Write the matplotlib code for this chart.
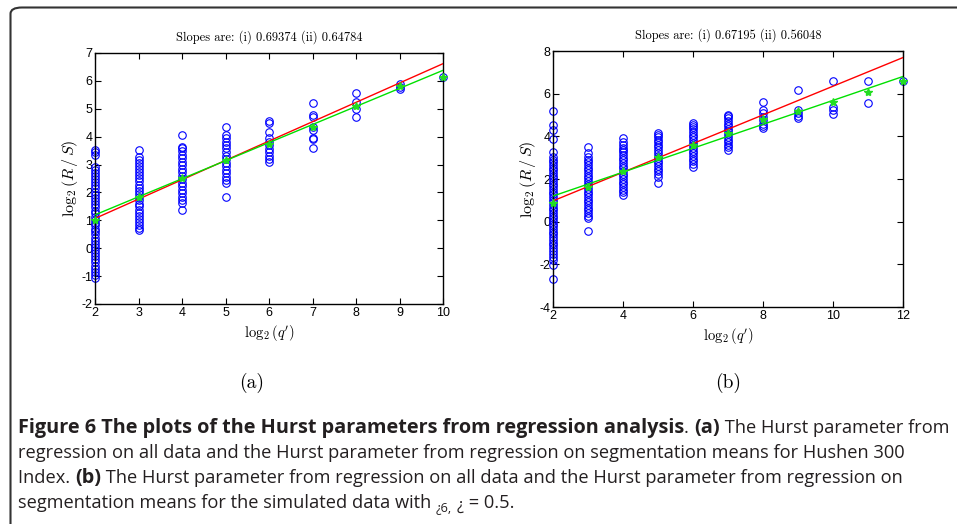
import matplotlib
matplotlib.use("Agg")
import matplotlib.pyplot as plt
from matplotlib.patches import FancyBboxPatch
from matplotlib import font_manager

# data
# (a) Hushen 300 index
a_xs = [2, 3, 4, 5, 6, 7, 8, 9, 10]
a_pts = {
    2: [-1.05, -0.95, -0.85, -0.75, -0.62, -0.5, -0.4, -0.28, -0.18, -0.05, 0.05, 0.15, 0.27,
        0.38, 0.5, 0.6, 0.7, 0.82, 0.92, 1.02, 1.12, 1.25, 1.35, 1.47, 1.58, 1.7, 1.8,
        1.92, 2.03, 2.15, 2.25, 2.37, 2.48, 2.6, 2.7, 2.82, 2.92, 3.33, 3.45, 3.52],
    3: [0.65, 0.72, 0.82, 0.93, 1.05, 1.15, 1.27, 1.38, 1.5, 1.6, 1.72, 1.83, 1.95, 2.05,
        2.17, 2.28, 2.4, 2.5, 2.62, 2.73, 2.85, 2.95, 3.07, 3.18, 3.28, 3.52],
    4: [1.37, 1.61, 1.72, 1.85, 1.97, 2.1, 2.22, 2.35, 2.47, 2.6, 2.72, 2.85, 2.97, 3.1,
        3.22, 3.35, 3.47, 3.58, 3.64, 4.06],
    5: [1.82, 2.33, 2.45, 2.57, 2.7, 2.82, 2.95, 3.07, 3.2, 3.32, 3.45, 3.58, 3.7, 3.82,
        3.94, 4.06, 4.36],
    6: [3.1, 3.2, 3.32, 3.45, 3.57, 3.7, 3.82, 3.94, 4.18, 4.48, 4.55],
    7: [3.6, 3.91, 3.97, 4.24, 4.35, 4.71, 4.77, 5.21],
    8: [4.71, 4.98, 5.25, 5.55],
    9: [5.7, 5.79, 5.89],
    10: [6.13],
}
a_means = [1.0, 1.85, 2.5, 3.15, 3.72, 4.35, 5.1, 5.8, 6.15]
a_slopes = [0.69374, 0.64784]      # (i) all data, (ii) segmentation means
a_intercepts = [-0.32, -0.10]

# (b) simulated data
b_xs = [2, 3, 4, 5, 6, 7, 8, 9, 10, 11, 12]
b_pts = {
    2: [-2.7, -2.03, -1.8, -1.64, -1.5, -1.37, -1.25, -1.1, -0.98, -0.85, -0.72, -0.6,
        -0.47, -0.35, -0.22, -0.1, 0.03, 0.15, 0.28, 0.4, 0.53, 0.65, 0.78, 0.9, 1.03,
        1.15, 1.28, 1.4, 1.53, 1.65, 1.78, 1.9, 2.03, 2.15, 2.28, 2.4, 2.53, 2.65, 2.78,
        2.89, 3.05, 3.28, 3.86, 4.3, 4.53, 5.19],
    3: [-0.44, 0.16, 0.28, 0.4, 0.53, 0.65, 0.78, 0.9, 1.03, 1.15, 1.28, 1.4, 1.53, 1.65,
        1.78, 1.9, 2.03, 2.15, 2.28, 2.4, 2.53, 2.65, 2.78, 2.9, 3.05, 3.2, 3.52],
    4: [1.25, 1.37, 1.5, 1.62, 1.75, 1.87, 2.0, 2.12, 2.25, 2.37, 2.5, 2.62, 2.75, 2.87,
        3.0, 3.12, 3.25, 3.37, 3.44, 3.59, 3.75, 3.91],
    5: [1.83, 2.11, 2.23, 2.36, 2.48, 2.6, 2.73, 2.85, 2.98, 3.1, 3.23, 3.35, 3.48, 3.6,
        3.73, 3.85, 3.98, 4.06, 4.14],
    6: [2.58, 2.7, 2.83, 2.95, 3.08, 3.2, 3.33, 3.45, 3.58, 3.7, 3.83, 3.95, 4.08, 4.2,
        4.33, 4.45, 4.55, 4.61],
    7: [3.36, 3.48, 3.6, 3.73, 3.85, 3.98, 4.1, 4.23, 4.35, 4.48, 4.6, 4.73, 4.85, 4.95, 5.0],
    8: [4.38, 4.48, 4.6, 4.75, 4.9, 5.08, 5.23, 5.63],
    9: [4.84, 4.97, 5.1, 5.23, 6.17],
    10: [5.03, 5.23, 5.39, 6.59],
    11: [5.55, 6.59],
    12: [6.59],
}
b_means = [0.86, 1.64, 2.38, 3.05, 3.59, 4.17, 4.8, 5.19, 5.63, 6.09, 6.59]
b_slopes = [0.67195, 0.56048]
b_intercepts = [-0.37, 0.08]


def pick_font(names):
    for n in names:
        try:
            font_manager.findfont(n, fallback_to_default=False)
            return n
        except Exception:
            pass
    return "DejaVu Sans"


tick_font = pick_font(["Liberation Sans", "Arial"])
cap_font = pick_font(["Open Sans", "Lato"])

plt.rcParams["mathtext.fontset"] = "cm"
plt.rcParams["axes.unicode_minus"] = False
plt.rcParams["font.family"] = tick_font

W, H = 957, 524
fig = plt.figure(figsize=(W / 100, H / 100), dpi=100)


def draw_panel(rect, xs, pts, means, slopes, intercepts, xlim, ylim, xticks, yticks, title):
    ax = fig.add_axes(rect)
    for x in xs:
        ax.plot([x] * len(pts[x]), pts[x], 'o', mfc='none', mec='#0000ff', ms=5.4,
                mew=0.8, clip_on=False, zorder=2)
    xe = [xs[0], xs[-1]]
    ax.plot(xe, [intercepts[0] + slopes[0] * v for v in xe], color='#ff0000', lw=1.0, zorder=3)
    ax.plot(xe, [intercepts[1] + slopes[1] * v for v in xe], color='#00e000', lw=1.0, zorder=3)
    ax.plot(xs, means, '*', color='#22dd22', ms=6, clip_on=False, zorder=4)
    ax.set_xlim(xlim)
    ax.set_ylim(ylim)
    ax.set_xticks(xticks)
    ax.set_yticks(yticks)
    ax.tick_params(direction='in', top=True, right=True, length=4, width=0.8,
                   labelsize=9, pad=2, colors='black')
    for s in ax.spines.values():
        s.set_linewidth(1.0)
    ax.set_title(title, fontfamily='cmr10', fontsize=9, pad=9)
    ax.set_xlabel(r"$\log_2(q')$", fontsize=10.5, labelpad=3)
    ax.set_ylabel(r"$\log_2(R\,/\,S)$", fontsize=11.5, labelpad=1)
    return ax


draw_panel([95 / W, 1 - 304 / H, 348 / W, 251 / H], a_xs, a_pts, a_means, a_slopes,
           a_intercepts, (2, 10), (-2, 7), range(2, 11), range(-2, 8),
           "Slopes are: (i) %.5f (ii) %.5f" % tuple(a_slopes))
draw_panel([553 / W, 1 - 307 / H, 350 / W, 256 / H], b_xs, b_pts, b_means, b_slopes,
           b_intercepts, (2, 12), (-4, 8), range(2, 13, 2), range(-4, 9, 2),
           "Slopes are: (i) %.5f (ii) %.5f" % tuple(b_slopes))

fig.text(252 / W, 1 - 383 / H, "(a)", fontfamily='cmr10', fontsize=14, ha='center', va='center')
fig.text(728 / W, 1 - 383 / H, "(b)", fontfamily='cmr10', fontsize=14, ha='center', va='center')

# rounded frame, open on the right
frame = FancyBboxPatch((10.5 / W, -10 / H), 1.1, 526.5 / H, boxstyle="round,pad=0,rounding_size=0.012",
                       transform=fig.transFigure, fill=False, ec='#333333', lw=1.5, clip_on=False)
fig.patches.append(frame)

# caption, written run by run
renderer = fig.canvas.get_renderer()
cap_color = '#231f20'


def write_runs(y, runs, sizes):
    x = 18.0
    widths = {'normal': 0.0, 'bold': 0.0}
    for txt, weight, dy, scale in runs:
        t = fig.text(x / W, (H - y - dy) / H, txt, fontfamily=cap_font,
                     fontsize=sizes[weight] * scale, fontweight=weight, color=cap_color,
                     ha='left', va='baseline')
        bb = t.get_window_extent(renderer)
        widths[weight] += bb.x1 - x
        x = bb.x1
    return widths


line1 = [("Figure 6 The plots of the Hurst parameters from regression analysis", 'bold', 0, 1),
         (". ", 'normal', 0, 1), ("(a)", 'bold', 0, 1), (" The Hurst parameter from", 'normal', 0, 1)]
line2 = [("regression on all data and the Hurst parameter from regression on segmentation means for Hushen 300",
          'normal', 0, 1)]
line3 = [("Index. ", 'normal', 0, 1), ("(b)", 'bold', 0, 1),
         (" The Hurst parameter from regression on all data and the Hurst parameter from regression on",
          'normal', 0, 1)]
line4 = [("segmentation means for the simulated data with ", 'normal', 0, 1),
         ("¿6,", 'normal', 3, 0.7), (" ", 'normal', 0, 1), ("¿", 'normal', 2, 0.9),
         (" = 0.5.", 'normal', 0, 1)]

# regular size from line 2 (ends near x=905), bold size from line 1 (ends near x=950)
sizes = {'normal': 11.0, 'bold': 11.0}
w2 = write_runs(-100, line2, sizes)
sizes['normal'] *= (905 - 18) / w2['normal']
w1 = write_runs(-100, line1, sizes)
sizes['bold'] *= (950 - 18 - w1['normal']) / w1['bold']
for t in list(fig.texts):
    if t.get_position()[1] > 1:
        t.remove()

write_runs(433, line1, sizes)
write_runs(458, line2, sizes)
write_runs(483, line3, sizes)
write_runs(508, line4, sizes)

fig.savefig("out.png", dpi=100)
